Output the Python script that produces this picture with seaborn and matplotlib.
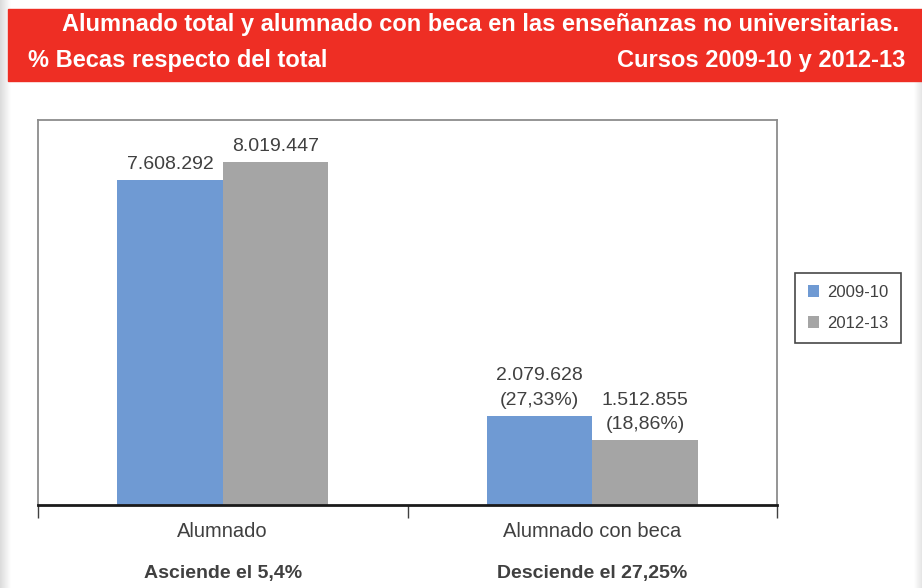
import numpy as np
import pandas as pd
import matplotlib
matplotlib.use("Agg")
import matplotlib.pyplot as plt
import seaborn as sns

categories = ["Alumnado", "Alumnado con beca"]
years = ["2009-10", "2012-13"]
values_2009 = [7608292, 2079628]
values_2012 = [8019447, 1512855]
pct_2009 = [None, "27,33%"]
pct_2012 = [None, "18,86%"]
notes = ["Asciende el 5,4%", "Desciende el 27,25%"]
title1 = "Alumnado total y alumnado con beca en las enseñanzas no universitarias."
title2_left = "% Becas respecto del total"
title2_right = "Cursos 2009-10 y 2012-13"

df = pd.DataFrame({
    "cat": categories * 2,
    "year": [years[0]] * 2 + [years[1]] * 2,
    "val": values_2009 + values_2012,
})

sns.set_theme(style="white")
plt.rcParams["font.family"] = ["Liberation Sans", "DejaVu Sans"]

fig = plt.figure(figsize=(9.22, 5.88), dpi=100)
W, H = 922, 588

# left shadow
sh = fig.add_axes([0, 0, 10 / W, 1])
grad = np.linspace(0.86, 1.0, 50).reshape(1, -1)
sh.imshow(np.dstack([grad, grad, grad]), aspect="auto", extent=[0, 1, 0, 1])
sh.axis("off")
sh2 = fig.add_axes([914 / W, 0, 8 / W, 1 - 80 / H])
grad2 = np.linspace(1.0, 0.9, 50).reshape(1, -1)
sh2.imshow(np.dstack([grad2, grad2, grad2]), aspect="auto", extent=[0, 1, 0, 1])
sh2.axis("off")

# red banner
fig.patches.append(plt.Rectangle((8 / W, 1 - 81 / H), 1 - 8 / W, 72 / H,
                                 transform=fig.transFigure, color="#EE2E24", zorder=0))
fig.text(481 / W, 1 - 25 / H, title1, ha="center", va="center", color="white",
         fontsize=17, fontweight="bold")
fig.text(28 / W, 1 - 61 / H, title2_left, ha="left", va="center", color="white",
         fontsize=17, fontweight="bold")
fig.text(905 / W, 1 - 61 / H, title2_right, ha="right", va="center", color="white",
         fontsize=17, fontweight="bold")

ax = fig.add_axes([38 / W, 83 / H, 739 / W, 385 / H])
sns.barplot(data=df, x="cat", y="val", hue="year", order=categories, hue_order=years,
            palette=["#6F9AD3", "#A5A5A5"], width=0.57, saturation=1, ax=ax, legend=True,
            linewidth=0)
ax.set_ylim(0, 9000000)
ax.set_xlim(-0.5, 1.5)
ax.set_xlabel("")
ax.set_ylabel("")
ax.set_yticks([])
ax.set_xticks([0, 1])
ax.set_xticklabels(categories, fontsize=14.5, color="#404040")
ax.tick_params(axis="x", which="major", length=0, pad=12)
ax.set_xticks([-0.5, 0.5, 1.5], minor=True)
ax.tick_params(axis="x", which="minor", length=9, width=1, color="#404040", direction="out", bottom=True)
for s in ["left", "top", "right"]:
    ax.spines[s].set_color("#8C8C8C")
    ax.spines[s].set_linewidth(1.3)
ax.spines["bottom"].set_color("#1A1A1A")
ax.spines["bottom"].set_linewidth(2)

def fmt(v):
    return f"{v:,}".replace(",", ".")

containers = ax.containers
for ci, (vals, pcts) in enumerate([(values_2009, pct_2009), (values_2012, pct_2012)]):
    for bi, bar in enumerate(containers[ci]):
        x = bar.get_x() + bar.get_width() / 2
        txt = fmt(vals[bi]) if pcts[bi] is None else f"{fmt(vals[bi])}\n({pcts[bi]})"
        ax.annotate(txt, (x, bar.get_height()), xytext=(0, 5), textcoords="offset points",
                    ha="center", va="bottom", fontsize=14, color="#404040", linespacing=1.6)

for i, n in enumerate(notes):
    ax.annotate(n, (i, 0), xycoords=("data", "axes fraction"), xytext=(0, -49.5),
                textcoords="offset points", ha="center", va="center", fontsize=14,
                fontweight="bold", color="#404040")

leg = ax.legend(loc="center left", bbox_to_anchor=(795 / W, (588 - 308) / H),
                bbox_transform=fig.transFigure, frameon=True, fancybox=False,
                borderaxespad=0, fontsize=12, handlelength=0.7, handleheight=0.7,
                handletextpad=0.5, borderpad=0.75, labelspacing=0.95, labelcolor="#404040")
leg.get_frame().set_edgecolor("#1A1A1A")
leg.get_frame().set_linewidth(1.2)

fig.savefig("out.png", dpi=100)
